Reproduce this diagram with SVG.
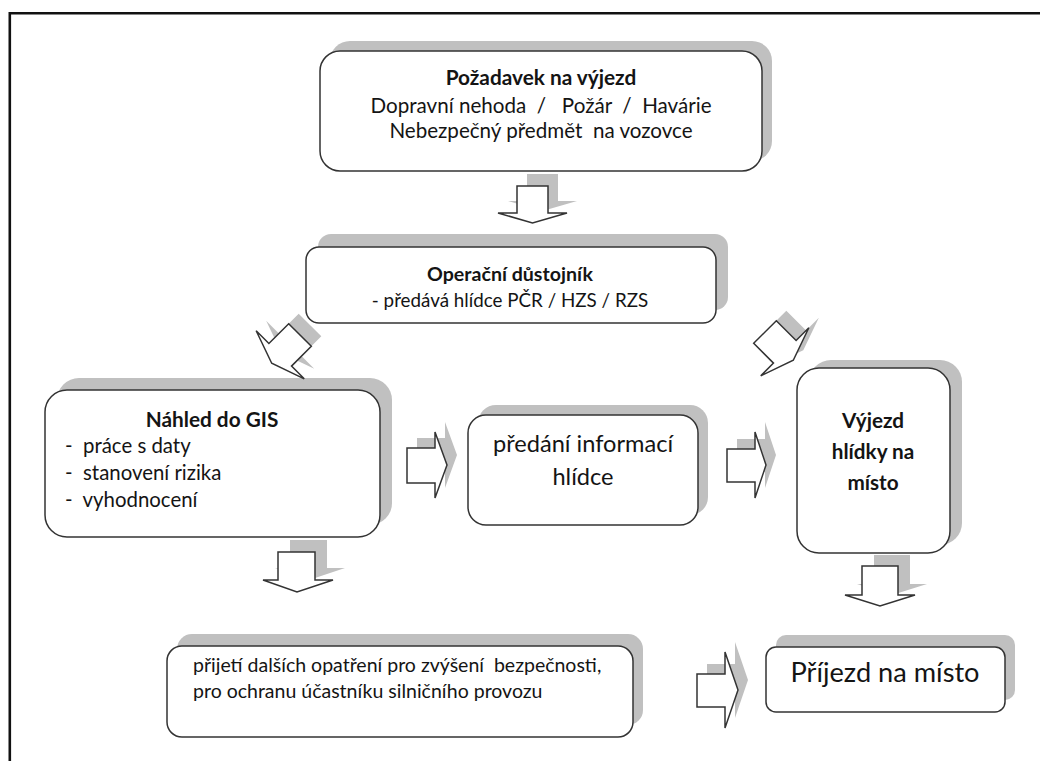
<svg xmlns="http://www.w3.org/2000/svg" width="1040" height="761" viewBox="0 0 1040 761">
  <style>
    .shadow { fill: #c0c0c0; stroke: none; }
    .box { fill: #ffffff; stroke: #333333; stroke-width: 1.5; }
    .arrow { fill: #ffffff; stroke: #333333; stroke-width: 1.5; stroke-linejoin: miter; }
    .t { font-family: Lato, "Open Sans", sans-serif; fill: #141414; }
    .b { font-weight: bold; }
    .c { text-anchor: middle; }
  </style>

  <!-- page background and frame -->
  <rect x="0" y="0" width="1040" height="761" fill="#ffffff"/>
  <path d="M9.8,762 V13.2 H1041" fill="none" stroke="#111111" stroke-width="2.6"/>

  <!-- nodes -->
  <g id="pozadavek">
    <rect class="shadow" x="330" y="41" width="442" height="120" rx="20"/>
    <rect class="box" x="320" y="51" width="442" height="120" rx="20"/>
    <text class="t b c" x="541" y="85" font-size="20.8">Požadavek na výjezd</text>
    <text class="t c" x="541" y="113" font-size="20.6" xml:space="preserve">Dopravní nehoda  /   Požár  /  Havárie</text>
    <text class="t c" x="541" y="138" font-size="20.6" xml:space="preserve">Nebezpečný předmět  na vozovce</text>
  </g>

  <g id="operacni">
    <rect class="shadow" x="318" y="234" width="410" height="76" rx="13"/>
    <rect class="box" x="306" y="247" width="410" height="76" rx="13"/>
    <text class="t b c" x="510" y="281" font-size="19.6">Operační důstojník</text>
    <text class="t c" x="510" y="307" font-size="18.8">- předává hlídce PČR / HZS / RZS</text>
  </g>

  <g id="nahled">
    <rect class="shadow" x="57" y="378" width="335" height="147" rx="22"/>
    <rect class="box" x="45" y="390" width="335" height="147" rx="22"/>
    <text class="t b c" x="212" y="427" font-size="20.8">Náhled do GIS</text>
    <text class="t" x="65" y="453" font-size="20.4" xml:space="preserve">-  práce s daty</text>
    <text class="t" x="65" y="480" font-size="20.4" xml:space="preserve">-  stanovení rizika</text>
    <text class="t" x="65" y="507" font-size="20.4" xml:space="preserve">-  vyhodnocení</text>
  </g>

  <g id="predani">
    <rect class="shadow" x="478" y="405" width="230" height="110" rx="18"/>
    <rect class="box" x="468" y="415" width="230" height="110" rx="18"/>
    <text class="t c" x="583" y="452" font-size="23.6">předání informací</text>
    <text class="t c" x="583" y="485" font-size="23.6">hlídce</text>
  </g>

  <g id="vyjezd">
    <rect class="shadow" x="809" y="360" width="153" height="185" rx="22"/>
    <rect class="box" x="797" y="368" width="153" height="185" rx="22"/>
    <text class="t b c" x="873" y="428" font-size="20.7">Výjezd</text>
    <text class="t b c" x="873" y="459" font-size="20.7">hlídky na</text>
    <text class="t b c" x="873" y="490" font-size="20.7">místo</text>
  </g>

  <g id="prijeti">
    <rect class="shadow" x="177" y="634" width="466" height="91" rx="15"/>
    <rect class="box" x="167" y="646" width="466" height="91" rx="15"/>
    <text class="t" x="193" y="672" font-size="19.5" xml:space="preserve">přijetí dalších opatření pro zvýšení  bezpečnosti,</text>
    <text class="t" x="193" y="698" font-size="19.5">pro ochranu účastníku silničního provozu</text>
  </g>

  <g id="prijezd">
    <rect class="shadow" x="776" y="635" width="239" height="65" rx="10"/>
    <rect class="box" x="766" y="647" width="239" height="65" rx="10"/>
    <text class="t c" x="885" y="682" font-size="27.2">Příjezd na místo</text>
  </g>

  <!-- connectors: block arrows with offset shadows -->
  <g id="connectors">
    <!-- Požadavek -> Operační -->
    <g transform="translate(10,-12)"><polygon class="shadow" points="517,186 548,186 548,213 567,213 532.5,223 498,213 517,213"/></g>
    <polygon class="arrow" points="517,186 548,186 548,213 567,213 532.5,223 498,213 517,213"/>

    <!-- Operační -> Náhled do GIS -->
    <g transform="translate(310,325) rotate(45)"><polygon class="shadow" points="-16,0 16,0 16,28 34,28 0,40 -34,28 -16,28"/></g>
    <g transform="translate(300,335) rotate(45)"><polygon class="arrow" points="-16,0 16,0 16,28 34,28 0,40 -34,28 -16,28"/></g>

    <!-- Operační -> Výjezd -->
    <g transform="translate(775,322) rotate(-45)"><polygon class="shadow" points="-16,0 16,0 16,28 34,28 0,40 -34,28 -16,28"/></g>
    <g transform="translate(765,332) rotate(-45)"><polygon class="arrow" points="-16,0 16,0 16,28 34,28 0,40 -34,28 -16,28"/></g>

    <!-- Náhled -> předání -->
    <g transform="translate(10,-10)"><polygon class="shadow" points="407,448 435,448 435,432 447,465 435,498 435,483 407,483"/></g>
    <polygon class="arrow" points="407,448 435,448 435,432 447,465 435,498 435,483 407,483"/>

    <!-- předání -> Výjezd -->
    <g transform="translate(10,-10)"><polygon class="shadow" points="727,449 755,449 755,432 766,465 755,498 755,482 727,482"/></g>
    <polygon class="arrow" points="727,449 755,449 755,432 766,465 755,498 755,482 727,482"/>

    <!-- Náhled -> přijetí opatření -->
    <g transform="translate(12,-12)"><polygon class="shadow" points="278,552 315,552 315,580 333,580 297,592 263,580 278,580"/></g>
    <polygon class="arrow" points="278,552 315,552 315,580 333,580 297,592 263,580 278,580"/>

    <!-- Výjezd -> Příjezd -->
    <g transform="translate(12,-11)"><polygon class="shadow" points="862,566 898,566 898,595 915,595 880,606 845,595 862,595"/></g>
    <polygon class="arrow" points="862,566 898,566 898,595 915,595 880,606 845,595 862,595"/>

    <!-- přijetí opatření -> Příjezd -->
    <g transform="translate(10,-10)"><polygon class="shadow" points="697,674 725,674 725,652 738,690 725,728 725,707 697,707"/></g>
    <polygon class="arrow" points="697,674 725,674 725,652 738,690 725,728 725,707 697,707"/>
  </g>
</svg>
